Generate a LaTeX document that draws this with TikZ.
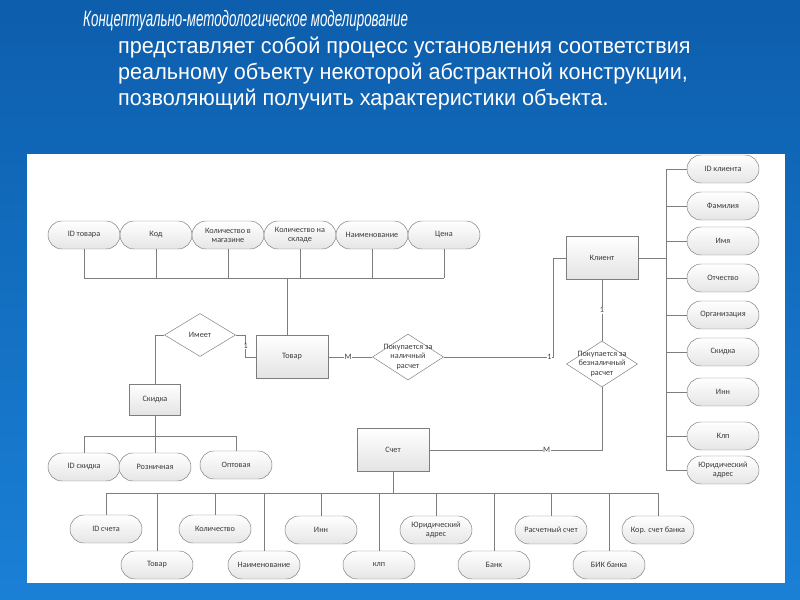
\documentclass[tikz,border=0pt]{standalone}
\usepackage{fontspec}
\setmainfont{Liberation Sans}[FakeStretch=0.97]
\newfontfamily\narrowfont[FakeStretch=0.6]{Liberation Sans}
\newfontfamily\diagfont{Carlito}
\usetikzlibrary{shapes.geometric}
\definecolor{slideblue}{RGB}{13,94,172}
\definecolor{slidelight}{RGB}{26,128,214}
\definecolor{linegray}{RGB}{125,125,125}
\definecolor{txtgray}{RGB}{60,60,60}
\tikzset{
  conn/.style={draw=linegray, line width=0.6pt},
  attr/.style={draw=linegray, rounded corners=0.42cm, minimum width=2.16cm, minimum height=0.84cm,
    inner sep=1pt, align=center, top color=white, bottom color=gray!20, text=txtgray,
    font=\diagfont\fontsize{7}{7.8}\selectfont},
  ent/.style={draw=linegray, rectangle, minimum width=2.16cm, minimum height=1.29cm,
    top color=white, bottom color=gray!22, text=txtgray, font=\diagfont\fontsize{7}{7.8}\selectfont},
  rel/.style={draw=linegray, diamond, fill=white, inner sep=0pt, minimum width=2.13cm, minimum height=1.38cm},
  rtext/.style={align=center, text=txtgray, font=\diagfont\fontsize{7}{7.8}\selectfont},
  card/.style={fill=white, inner sep=0.6pt, text=txtgray, font=\diagfont\fontsize{7}{7.8}\selectfont},
  title/.style={text=white, inner sep=0pt, anchor=base west, font=\fontsize{19}{22}\selectfont}
}

\begin{document}
\begin{tikzpicture}[x=0.03cm, y=-0.03cm]
\useasboundingbox (0,0) rectangle (800,600);
\shade[top color=slideblue, bottom color=slidelight] (0,0) rectangle (800,600);
\fill[white] (27,154) rectangle (785,583);

% title
\node[title] (h1) at (83,27) {\narrowfont\itshape Концептуально-методологическое моделирование};
\node[title] (h2) at (118,54) {представляет собой процесс установления соответствия};
\node[title] (h3) at (118,80) {реальному объекту некоторой абстрактной конструкции,};
\node[title] (h4) at (118,106) {позволяющий получить характеристики объекта.};

% entities
\node[ent] (tovar) at (292,357) {Товар};
\node[ent, minimum width=1.53cm, minimum height=0.93cm] (skidka) at (155,400) {Скидка};
\node[ent] (schet) at (393,450) {Счет};
\node[ent] (klient) at (602,258) {Клиент};

% relations
\node[rel, minimum height=1.29cm, label={[rtext]center:Имеет}] (imeet) at (200,335) {};
\node[rel, label={[rtext]center:{Покупается за\\наличный\\расчет}}] (nal) at (408,357) {};
\node[rel, label={[rtext]center:{Покупается за\\безналичный\\расчет}}] (bez) at (602,364) {};

% attributes of Товар
\foreach \n/\x/\lab in {t1/84/ID товара, t2/156/Код, t3/228/{Количество в\\магазине},
    t4/300/{Количество на\\складе}, t5/372/Наименование, t6/444/Цена}
  \node[attr] (\n) at (\x,235) {\lab};
\coordinate (tbus) at (287,278);
\draw[conn] (t1.south |- tbus) -- (t6.south |- tbus);
\foreach \n in {t1,t2,t3,t4,t5,t6}
  \draw[conn] (\n.south) -- (\n.south |- tbus);
\draw[conn] (tbus) -- (tbus |- tovar.north);

% attributes of Скидка
\foreach \n/\x/\y/\lab in {d1/84/467/ID скидка, d2/155/467/Розничная, d3/236/465/Оптовая}
  \node[attr] (\n) at (\x,\y) {\lab};
\coordinate (dbus) at (155,436);
\draw[conn] (d1.north |- dbus) -- (d3.north |- dbus);
\draw[conn] (d1.north) -- (d1.north |- dbus);
\draw[conn] (d3.north) -- (d3.north |- dbus);
\draw[conn] (skidka.south) -- (d2.north);

% attributes of Счет
\foreach \n/\x/\y/\lab in {s1/106/529/ID счета, s2/157/565/Товар, s3/215/529/Количество,
    s4/264/565/Наименование, s5/321/530/Инн, s6/379/565/клп, s7/436/530/{Юридический\\адрес},
    s8/494/565/Банк, s9/551/530/Расчетный счет, s10/609/565/БИК банка, s11/658/530/Кор. счет банка}
  \node[attr] (\n) at (\x,\y) {\lab};
\coordinate (sbus) at (393,493);
\draw[conn] (schet.south) -- (sbus);
\draw[conn] (s1.north |- sbus) -- (s11.north |- sbus);
\foreach \i in {1,...,11}
  \draw[conn] (s\i.north) -- (s\i.north |- sbus);

% attributes of Клиент
\foreach \i/\y/\lab in {1/169/ID клиента, 2/206/Фамилия, 3/241/Имя, 4/278/Отчество,
    5/315/Организация, 6/352/Скидка, 7/392/Инн, 8/436/Клп, 9/470/{Юридический\\адрес}}
  \node[attr] (k\i) at (723,\y) {\lab};
\coordinate (kbus) at (666,258);
\draw[conn] (klient.east) -- (klient.east -| kbus);
\draw[conn] (k1.west -| kbus) -- (k9.west -| kbus);
\foreach \i in {1,...,9}
  \draw[conn] (k\i.west) -- (k\i.west -| kbus);

% relationships
\draw[conn] (imeet.west) -| (skidka.north);
\draw[conn] (imeet.east) -- ++(10,0) |- (tovar.west) node[card, pos=0.25] {1};
\draw[conn] (tovar.east) -- (nal.west) node[card, pos=0.45] {M};
\draw[conn] (klient.west) -- ++(-12,0) |- (nal.east) node[card, pos=0.52] {1};
\draw[conn] (klient.south) -- (bez.north) node[card, midway] {1};
\draw[conn] (bez.south) |- (schet.east) node[card, pos=0.66] {M};
\end{tikzpicture}
\end{document}
